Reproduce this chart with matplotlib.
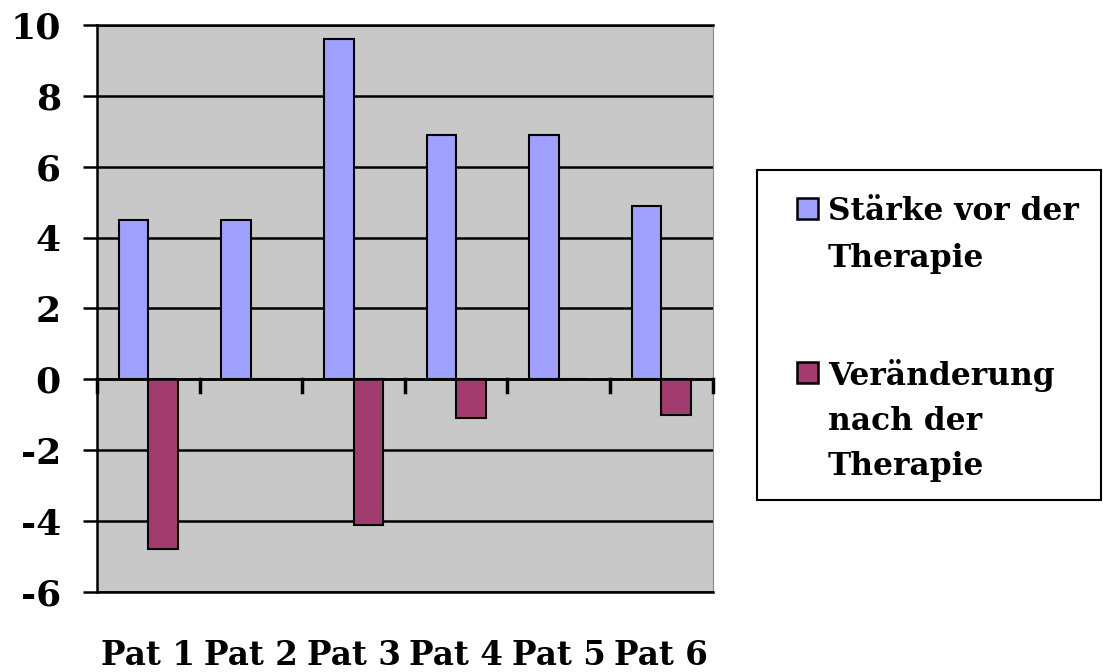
import numpy as np
import matplotlib
matplotlib.use("Agg")
from matplotlib import pyplot as plt
from matplotlib.patches import Rectangle

patients = ['Pat 1', 'Pat 2', 'Pat 3', 'Pat 4', 'Pat 5', 'Pat 6']
staerke_vor = [4.5, 4.5, 9.6, 6.9, 6.9, 4.9]
veraenderung = [-4.8, 0, -4.1, -1.1, 0, -1.0]
label_vor = 'Stärke vor der\nTherapie'
label_nach = 'Veränderung\nnach der\nTherapie'
col_vor = '#A0A0FF'
col_nach = '#A33C6E'

plt.rcParams['font.family'] = 'DejaVu Serif'
plt.rcParams['font.weight'] = 'bold'
plt.rcParams['axes.unicode_minus'] = False

fig = plt.figure(figsize=(11.03, 6.72), dpi=100)
ax = fig.add_axes([0.088, 0.119, 0.558, 0.844])
ax.set_facecolor('#C8C8C8')

x = np.arange(len(patients))
w = 0.287
ax.bar(x - w / 2, staerke_vor, w, color=col_vor, edgecolor='black', linewidth=1.5, zorder=3)
ax.bar(x + w / 2, veraenderung, w, color=col_nach, edgecolor='black', linewidth=1.5, zorder=3)

ax.set_xlim(-0.5, len(patients) - 0.5)
ax.set_ylim(-6, 10)
ax.set_yticks(range(-6, 11, 2))
ax.yaxis.grid(True, color='black', linewidth=1.8)
ax.set_axisbelow(True)

# category ticks hanging below the zero line
for b in np.arange(len(patients) + 1) - 0.5:
    ax.plot([b, b], [0, -0.37], color='black', linewidth=2.5, zorder=4, clip_on=False)
ax.axhline(0, color='black', linewidth=1.8, zorder=4)

ax.set_xticks(x)
ax.set_xticklabels(patients)
ax.tick_params(axis='x', length=0, pad=34, labelsize=23.5)
ax.tick_params(axis='y', length=10, width=1.8, labelsize=26, pad=16)

ax.spines['left'].set_linewidth(1.8)
ax.spines['bottom'].set_linewidth(1.8)
ax.spines['top'].set_linewidth(1.8)
ax.spines['right'].set_color('#888888')

# legend box, drawn by hand so the swatch sits on the first text line
W, H = 1103, 672
fig.patches.append(Rectangle((757 / W, 1 - 500 / H), 344 / W, 330 / H, transform=fig.transFigure,
                             facecolor='white', edgecolor='black', linewidth=1.5))
entries = [(label_vor, col_vor, 198, [220, 267]),
           (label_nach, col_nach, 362, [385, 430, 475])]
for text, col, sq_top, baselines in entries:
    fig.patches.append(Rectangle((797 / W, 1 - (sq_top + 21) / H), 21 / W, 21 / H,
                                 transform=fig.transFigure, facecolor=col,
                                 edgecolor='black', linewidth=1.8))
    for line, base in zip(text.split('\n'), baselines):
        fig.text(828 / W, 1 - base / H, line, fontsize=22.5, fontweight='bold',
                 va='baseline', ha='left')

fig.savefig('out.png', dpi=100)
